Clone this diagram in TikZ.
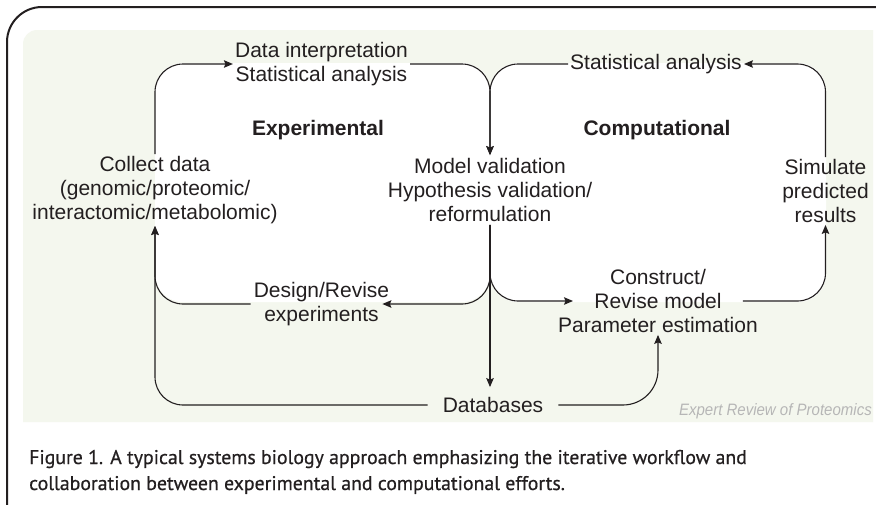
\documentclass[tikz,border=0pt]{standalone}
\usepackage{fontspec}
\setmainfont{Liberation Sans}
\newfontfamily\capfont[FakeBold=0.6]{PT Sans}
\usetikzlibrary{arrows.meta}
\definecolor{bggreen}{RGB}{244,247,238}
\definecolor{ink}{RGB}{35,31,32}
\definecolor{wmark}{RGB}{182,182,182}
\begin{document}
\begin{tikzpicture}[x=1pt,y=-1pt,
  lbl/.style={font=\fontsize{21}{24}\selectfont, text=ink, align=center, inner sep=2pt},
  head/.style={font=\bfseries\fontsize{21}{24}\selectfont, text=ink, inner sep=0pt},
  conn/.style={draw=ink, line width=1.1pt, rounded corners=28pt},
  arr/.style={conn, -{Stealth[length=9pt,width=7.5pt,inset=1.5pt]}},
  capline/.style={anchor=base west, inner sep=0pt, font=\capfont\fontsize{19.8}{26}\selectfont, text=ink}]

\useasboundingbox (0,0) rectangle (876,504);
\fill[white] (0,0) rectangle (876,504);
% green panel
\fill[bggreen] (23,422) -- (23,44) .. controls (23,36.3) and (29.3,30) .. (37,30) -- (873,30) -- (873,422) -- cycle;
% white loop interiors
\fill[white, rounded corners=28pt] (155,63) rectangle (490,302);
\fill[white, rounded corners=28pt] (490,63) rectangle (826,302);
% outer frame
\draw[line width=2pt, ink] (7,510) -- (7,42) .. controls (7,22.75) and (22.75,7) .. (42,7) -- (880,7);

% nodes
\node[lbl] (collect) at (155,190) {Collect data\\(genomic/proteomic/\\interactomic/metabolomic)};
\node[lbl] (datainterp) at (321.5,64) {Data interpretation\\Statistical analysis};
\node[lbl] (stat2) at (656,64) {Statistical analysis};
\node[lbl, inner sep=3pt] (model) at (490,190) {Model validation\\Hypothesis validation/\\reformulation};
\node[lbl] (simulate) at (825.5,191) {Simulate\\predicted\\results};
\node[lbl, inner xsep=3pt] (design) at (321.5,304) {Design/Revise\\experiments};
\node[lbl] (construct) at (658,301) {Construct/\\Revise model\\Parameter estimation};
\node[lbl, inner xsep=15pt, inner ysep=10pt] (databases) at (493,405) {Databases};
\node[head] (exp) at (318,130) {Experimental};
\node[head] (comp) at (657,130) {Computational};
\node[anchor=base east, inner sep=0pt, text=wmark, font=\itshape\fontsize{16.5}{18}\selectfont] (wm) at (872,415) {\scalebox{0.91}[1]{Expert Review of Proteomics}};
\node[capline] (cap1) at (29,464) {Figure 1. A typical systems biology approach emphasizing the iterative workflow and};
\node[capline] (cap2) at (29,490) {collaboration between experimental and computational efforts.};

\coordinate (cin) at ([xshift=17pt]construct.west);
\coordinate (cout) at ([xshift=-17pt]construct.east);
\coordinate (din) at ([xshift=-10pt]design.east);

% connectors
\draw[arr] (collect.north) |- (datainterp.west);
\draw[arr] (datainterp.east) -| (model.north);
\draw[arr] (stat2.west) -| (model.north);
\draw[arr] (simulate.north) |- (stat2.east);
\draw[arr] (model.south) |- (din);
\draw[arr] (model.south) |- (cin);
\draw[arr] (model.south) -- (model.south |- databases.north);
\draw[arr] (design.west) -| (collect.south);
\draw[arr] (databases.west) -| (collect.south);
\draw[arr, rounded corners=35pt] (databases.east) -| (construct.south);
\draw[arr] (cout) -| (simulate.south);
\end{tikzpicture}
\end{document}
